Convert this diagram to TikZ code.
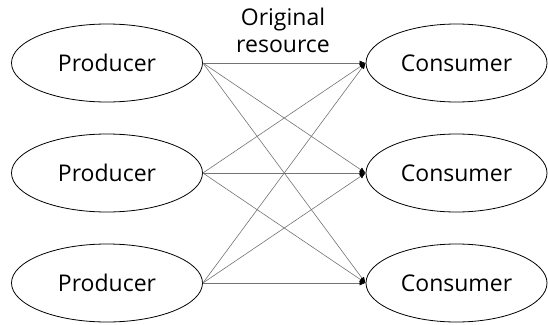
\documentclass[tikz,border=0pt]{standalone}
\usepackage{fontspec}
\setmainfont{Open Sans}
\usetikzlibrary{shapes.geometric,arrows.meta}
\begin{document}
\begin{tikzpicture}[x=1pt,y=-1pt,
  role/.style={draw=black,line width=0.8pt,ellipse,inner sep=0pt,font=\fontsize{23}{26}\selectfont},
  flow/.style={draw=black!55,line width=0.6pt,-{Latex[length=6pt,width=5pt,black]}}]
\useasboundingbox (0,0) rectangle (548,324);
\foreach \i/\y in {1/63,2/173,3/283}{
  \node[role,minimum width=191pt,minimum height=78pt] (p\i) at (107,\y) {Producer};
  \node[role,minimum width=181pt,minimum height=78pt] (c\i) at (456.5,\y) {Consumer};
}
\foreach \i in {1,2,3}{
  \foreach \j in {1,2,3}{
    \draw[flow] (p\i.east) -- (c\j.west);
  }
}
\node[font=\fontsize{23}{27}\selectfont,align=center] (lbl) at (283,30) {Original\\resource};
\end{tikzpicture}
\end{document}
